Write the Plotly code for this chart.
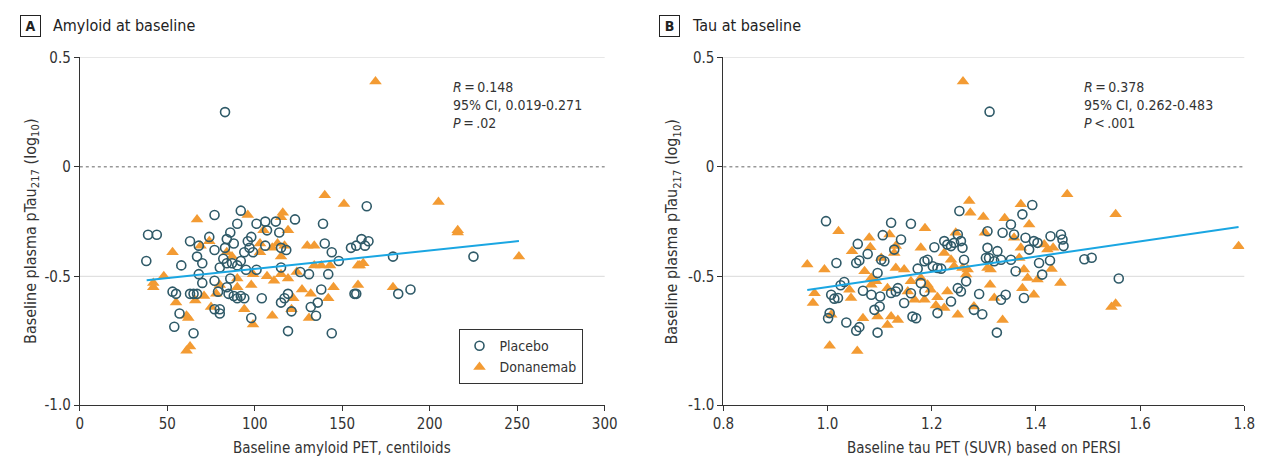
import plotly.graph_objects as go

# ---------------- data ----------------
A_placebo_x = [39,44,38,58,63,68,67,70,74,77, 77,84,88,86,90,92,83,82,84,87,
               90,92,94,96,98,97,99,101,106,112, 106,107,114,115,118,123,139,140,144,148,
               155,158,80,95,101,115,126,131,68,70, 77,79,84,86,85,88,90,92,94,104,
               53,55,63,65,67,115,117,119,121,132, 135,136,138,142,144,157,77,80,80,98,
               119,65,57,54, 161,83,163,165,158,179,182,189,225,164]
A_placebo_y = [-0.31,-0.31,-0.43,-0.45,-0.34,-0.36,-0.41,-0.44,-0.32,-0.22,
               -0.38,-0.33,-0.35,-0.30,-0.26,-0.20,-0.37,-0.42,-0.44,-0.44,
               -0.45,-0.43,-0.39,-0.34,-0.32,-0.37,-0.39,-0.26,-0.25,-0.25,
               -0.36,-0.29,-0.30,-0.37,-0.38,-0.24,-0.26,-0.35,-0.39,-0.43,
               -0.37,-0.36,-0.46,-0.47,-0.47,-0.46,-0.48,-0.49,-0.49,-0.53,
               -0.52,-0.57,-0.55,-0.51,-0.58,-0.59,-0.60,-0.59,-0.60,-0.60,
               -0.57,-0.58,-0.58,-0.58,-0.58,-0.62,-0.60,-0.58,-0.66,-0.64,
               -0.68,-0.62,-0.56,-0.49,-0.76,-0.58,-0.65,-0.65,-0.67,-0.69,
               -0.75,-0.76,-0.67,-0.73, -0.33,0.25,-0.36,-0.34,-0.58,-0.41,-0.58,-0.56,-0.41,-0.18]
A_donanemab_x = [67,53,48,42,42,74,69,96,116,119, 105,103,110,113,117,130,134,140,151,145,
                 142,132,127,122,121,110,98,94,99,90, 78,75,71,66,61,62,61,63,55,80,
                 90,99,107,111,115,119,124,134,138,143, 159,159,131,103,115,84,87,115,
                 169,205,216,216,251,179,162,160]
A_donanemab_y = [-0.24,-0.39,-0.50,-0.53,-0.55,-0.34,-0.36,-0.22,-0.21,-0.29,
                 -0.29,-0.35,-0.37,-0.35,-0.36,-0.36,-0.36,-0.13,-0.17,-0.55,
                 -0.60,-0.58,-0.56,-0.60,-0.65,-0.68,-0.54,-0.65,-0.72,-0.55,
                 -0.58,-0.64,-0.59,-0.61,-0.68,-0.69,-0.84,-0.82,-0.62,-0.54,
                 -0.51,-0.49,-0.50,-0.52,-0.49,-0.51,-0.48,-0.45,-0.45,-0.45,
                 -0.45,-0.54,-0.69,-0.39,-0.41,-0.39,-0.41,-0.23,
                 0.39,-0.16,-0.29,-0.30,-0.41,-0.55,-0.44,-0.45]
A_fit_x = [38.2, 251.0]
A_fit_y = [-0.518, -0.339]

B_placebo_x = [0.997,1.058,1.017,1.055,1.061,1.077,1.068,1.007,1.013,1.020,
               1.025,1.032,1.004,1.001,1.036,1.055,1.061,1.096,1.084,1.101,
               1.090,1.100,1.106,1.122,1.128,1.141,1.160,1.109,1.103,1.096,
               1.122,1.131,1.135,1.147,1.160,1.163,1.170,1.186,1.179,1.186,
               1.192,1.205,1.202,1.211,1.218,1.173,1.224,1.230,1.237,1.243,
               1.250,1.253,1.256,1.259,1.262,1.266,1.250,1.256,1.237,1.211,
               1.281,1.297,1.291,1.307,1.307,1.304,1.310,1.320,1.326,1.333,
               1.336,1.352,1.358,1.352,1.361,1.333,1.342,1.377,1.374,1.393,
               1.380,1.387,1.396,1.403,1.406,1.412,1.427,1.428,1.448,1.451,
               1.453,1.325, 1.311,1.493,1.507,1.559]
B_placebo_y = [-0.248,-0.352,-0.439,-0.439,-0.428,-0.398,-0.566,-0.584,-0.602,-0.599,
               -0.541,-0.526,-0.668,-0.691,-0.711,-0.748,-0.732,-0.757,-0.584,-0.592,
               -0.653,-0.638,-0.312,-0.255,-0.378,-0.332,-0.260,-0.431,-0.424,-0.485,
               -0.576,-0.569,-0.554,-0.622,-0.577,-0.684,-0.691,-0.569,-0.531,-0.431,
               -0.424,-0.367,-0.454,-0.462,-0.465,-0.465,-0.339,-0.355,-0.362,-0.347,
               -0.309,-0.202,-0.339,-0.370,-0.424,-0.523,-0.554,-0.569,-0.615,-0.668,
               -0.653,-0.673,-0.581,-0.370,-0.294,-0.416,-0.416,-0.431,-0.385,-0.424,
               -0.301,-0.263,-0.309,-0.424,-0.477,-0.607,-0.584,-0.599,-0.217,-0.174,
               -0.324,-0.378,-0.339,-0.347,-0.439,-0.492,-0.428,-0.317,-0.309,-0.332,
               -0.362,-0.757, 0.252,-0.422,-0.415,-0.51]
B_donanemab_x = [0.961,0.994,0.975,0.972,1.021,1.007,1.004,1.057,1.047,1.080,
                 1.082,1.119,1.131,1.128,1.103,1.071,1.084,1.093,1.042,1.045,
                 1.084,1.115,1.131,1.147,1.160,1.179,1.192,1.198,1.211,1.186,
                 1.167,1.154,1.096,1.115,1.135,1.122,1.068,1.187,1.179,1.246,
                 1.224,1.237,1.243,1.259,1.269,1.266,1.272,1.274,1.299,1.302,
                 1.307,1.313,1.312,1.320,1.281,1.250,1.336,1.340,1.358,1.371,
                 1.387,1.371,1.368,1.377,1.384,1.396,1.374,1.403,1.416,1.422,
                 1.433,1.430,1.447,1.460,1.230,1.224,1.208,
                 1.260,1.553,1.545,1.553,1.789]
B_donanemab_y = [-0.446,-0.469,-0.577,-0.622,-0.294,-0.676,-0.817,-0.841,-0.385,-0.324,
                 -0.367,-0.309,-0.362,-0.393,-0.416,-0.477,-0.508,-0.523,-0.561,-0.599,
                 -0.538,-0.554,-0.462,-0.469,-0.523,-0.508,-0.538,-0.561,-0.596,-0.607,
                 -0.607,-0.569,-0.684,-0.722,-0.699,-0.684,-0.691,-0.281,-0.370,-0.301,
                 -0.393,-0.424,-0.454,-0.462,-0.469,-0.492,-0.156,-0.210,-0.229,-0.301,
                 -0.462,-0.469,-0.538,-0.599,-0.638,-0.676,-0.699,-0.235,-0.324,-0.171,
                 -0.263,-0.370,-0.416,-0.469,-0.508,-0.584,-0.554,-0.515,-0.355,-0.378,
                 -0.370,-0.466,-0.531,-0.125,-0.569,-0.645,-0.633,
                 0.390,-0.216,-0.640,-0.625,-0.363]
B_fit_x = [0.961, 1.789]
B_fit_y = [-0.562, -0.275]

# the reference's bottom axis (labelled -1.0) sits a little below the -1.0 level
Y_MAX, Y_BOTTOM = 0.5, -1.088
y_tickvals = [0.5, 0, -0.5, Y_BOTTOM]
y_ticktext = ["0.5", "0", "-0.5", "-1.0"]
A_tickvals = [0, 50, 100, 150, 200, 250, 300]
B_tickvals = [0.8, 1.0, 1.2, 1.4, 1.6, 1.8]
B_ticktext = ["0.8", "1.0", "1.2", "1.4", "1.6", "1.8"]
grid_lines = [0.5, -0.5]
dotted_lines = [0]

A_stats = ["<i>R</i>\u2009=\u20090.148", "95% CI, 0.019-0.271", "<i>P</i>\u2009=\u2009.02"]
B_stats = ["<i>R</i>\u2009=\u20090.378", "95% CI, 0.262-0.483", "<i>P</i>\u2009<\u2009.001"]

# ---------------- style ----------------
W, H = 1265, 457
FONT = "Liberation Sans Narrow, DejaVu Sans Condensed, Arial Narrow, sans-serif"
TXT = "#333333"
PLA = "#2f5a68"
DON = "#f39b33"
FIT = "#1aa6e2"

def px_x(p):
    return p / W

def px_y(p):
    return (H - p) / H

fig = go.Figure()

for xs, ys, xa, ya, show in [(A_donanemab_x, A_donanemab_y, "x", "y", True),
                             (B_donanemab_x, B_donanemab_y, "x2", "y2", False)]:
    fig.add_trace(go.Scatter(x=xs, y=ys, mode="markers", xaxis=xa, yaxis=ya,
                             name="Donanemab", showlegend=show, legendrank=2,
                             marker=dict(symbol="triangle-up", size=11, color=DON,
                                         line=dict(width=0))))
for xs, ys, xa, ya, show in [(A_placebo_x, A_placebo_y, "x", "y", True),
                             (B_placebo_x, B_placebo_y, "x2", "y2", False)]:
    fig.add_trace(go.Scatter(x=xs, y=ys, mode="markers", xaxis=xa, yaxis=ya,
                             name="Placebo", showlegend=show, legendrank=1,
                             marker=dict(symbol="circle", size=9, color="rgba(0,0,0,0)",
                                         line=dict(width=1.6, color=PLA))))
for xs, ys, xa, ya in [(A_fit_x, A_fit_y, "x", "y"), (B_fit_x, B_fit_y, "x2", "y2")]:
    fig.add_trace(go.Scatter(x=xs, y=ys, mode="lines", xaxis=xa, yaxis=ya,
                             showlegend=False, line=dict(color=FIT, width=2)))

axis_common = dict(showline=True, linecolor=TXT, linewidth=1, ticks="outside",
                   ticklen=5, tickcolor=TXT, tickwidth=1, showgrid=False, zeroline=False,
                   tickfont=dict(family=FONT, size=15, color=TXT))

ydom = [px_y(404), px_y(42)]
fig.update_layout(
    width=W, height=H, margin=dict(l=0, r=0, t=0, b=0),
    paper_bgcolor="white", plot_bgcolor="white",
    font=dict(family=FONT, color=TXT),
    xaxis=dict(domain=[px_x(62), px_x(597)], range=[0, 300], tickvals=A_tickvals,
               anchor="y", **axis_common),
    yaxis=dict(domain=ydom, range=[Y_BOTTOM, Y_MAX], tickvals=y_tickvals, ticktext=y_ticktext,
               anchor="x", **axis_common),
    xaxis2=dict(domain=[px_x(718), px_x(1249)], range=[0.8, 1.8], tickvals=B_tickvals,
                ticktext=B_ticktext, anchor="y2", **axis_common),
    yaxis2=dict(domain=ydom, range=[Y_BOTTOM, Y_MAX], tickvals=y_tickvals, ticktext=y_ticktext,
                anchor="x2", **axis_common),
    legend=dict(x=px_x(448), y=px_y(325), xanchor="left", yanchor="top",
                bordercolor=TXT, borderwidth=1, bgcolor="white",
                font=dict(family=FONT, size=14, color=TXT),
                itemwidth=30, tracegroupgap=0),
)

shapes = []
for xr, yr in [("x", "y"), ("x2", "y2")]:
    for g in grid_lines:
        shapes.append(dict(type="line", xref=f"{xr} domain", yref=yr, x0=0, x1=1, y0=g, y1=g,
                           line=dict(color="#d9d9d9", width=1), layer="below"))
    for g in dotted_lines:
        shapes.append(dict(type="line", xref=f"{xr} domain", yref=yr, x0=0, x1=1, y0=g, y1=g,
                           line=dict(color="#666666", width=1, dash="dot"), layer="below"))
fig.update_layout(shapes=shapes)

ann = []
for lbl, title, bx, tx in [("A", "Amyloid at baseline", 12, 33), ("B", "Tau at baseline", 663, 684)]:
    ann.append(dict(text=f"<b>{lbl}</b>", x=px_x(bx), y=px_y(9), xref="paper", yref="paper",
                    showarrow=False, xanchor="center", yanchor="middle",
                    font=dict(family=FONT, size=14, color="#222222"),
                    bordercolor="#222222", borderwidth=1, borderpad=2, width=15))
    ann.append(dict(text=title, x=px_x(tx), y=px_y(9), xref="paper", yref="paper",
                    showarrow=False, xanchor="left", yanchor="middle",
                    font=dict(family=FONT, size=16, color="#222222")))
for stats, sx in [(A_stats, 440), (B_stats, 1084)]:
    ann.append(dict(text="<br>".join(stats), x=px_x(sx), y=px_y(62), xref="paper", yref="paper",
                    showarrow=False, xanchor="left", yanchor="top", align="left",
                    font=dict(family=FONT, size=14, color=TXT)))
ytitle = "Baseline plasma pTau<sub>217</sub> (log<sub>10</sub>)"
for yx in [12, 666]:
    ann.append(dict(text=ytitle, x=px_x(yx), y=(ydom[0] + ydom[1]) / 2, xref="paper", yref="paper",
                    showarrow=False, textangle=-90, xanchor="center", yanchor="middle",
                    font=dict(family=FONT, size=16, color=TXT)))
for xt, cx in [("Baseline amyloid PET, centiloids", (62 + 597) / 2),
               ("Baseline tau PET (SUVR) based on PERSI", (718 + 1249) / 2)]:
    ann.append(dict(text=xt, x=px_x(cx), y=px_y(449), xref="paper", yref="paper",
                    showarrow=False, xanchor="center", yanchor="middle",
                    font=dict(family=FONT, size=15, color=TXT)))
fig.update_layout(annotations=ann)

fig.write_html("out.html")
